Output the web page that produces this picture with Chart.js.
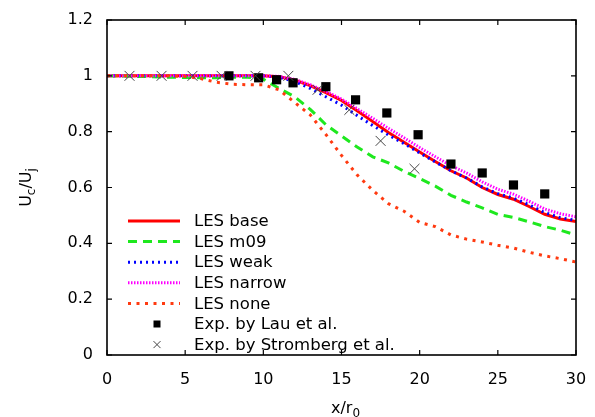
<!DOCTYPE html>
<html>
<head>
<meta charset="utf-8">
<title>Centreline velocity decay</title>
<script src="https://cdn.jsdelivr.net/npm/chart.js@4/dist/chart.umd.min.js"></script>
<style>
  html, body { margin: 0; padding: 0; background: #fff; }
  #wrap { width: 595px; height: 417px; position: relative; }
</style>
</head>
<body>
<div id="wrap"><canvas id="chart"></canvas></div>
<script>
/* ── DATA ─────────────────────────────────────────────── */
const xTicks = [0, 5, 10, 15, 20, 25, 30];
const yTicks = [0, 0.2, 0.4, 0.6, 0.8, 1, 1.2];

// shared x positions (x/r0) of the LES curves
const lesX = [0, 2, 4, 5, 6, 7, 8, 9, 10, 11, 12, 13, 14, 15, 16, 17, 18, 19, 20, 21, 22, 23, 24, 25, 26, 27, 28, 29, 30];

const lesBase   = [1.0, 1.0, 1.0, 1.0, 1.0, 1.0, 1.0, 1.0, 1.0, 0.997, 0.985, 0.965, 0.94, 0.912, 0.875, 0.836, 0.797, 0.762, 0.727, 0.693, 0.66, 0.634, 0.6, 0.575, 0.558, 0.532, 0.504, 0.487, 0.478];
const lesM09    = [1.0, 0.998, 0.995, 0.994, 0.993, 0.993, 0.995, 0.995, 0.988, 0.955, 0.925, 0.88, 0.825, 0.785, 0.745, 0.71, 0.688, 0.658, 0.632, 0.605, 0.572, 0.548, 0.527, 0.504, 0.493, 0.477, 0.46, 0.447, 0.43];
const lesWeak   = [1.0, 1.0, 1.0, 1.0, 1.0, 1.0, 1.0, 1.0, 1.0, 0.995, 0.98, 0.955, 0.925, 0.895, 0.858, 0.822, 0.788, 0.757, 0.724, 0.692, 0.66, 0.634, 0.602, 0.578, 0.562, 0.538, 0.51, 0.492, 0.482];
const lesNarrow = [1.0, 1.0, 1.0, 1.0, 1.0, 1.0, 1.0, 1.0, 1.0, 0.998, 0.987, 0.968, 0.944, 0.917, 0.882, 0.848, 0.812, 0.778, 0.743, 0.71, 0.678, 0.652, 0.62, 0.594, 0.576, 0.551, 0.523, 0.506, 0.495];
const lesNone   = [1.0, 1.0, 1.0, 0.998, 0.99, 0.977, 0.97, 0.968, 0.968, 0.95, 0.905, 0.86, 0.79, 0.715, 0.645, 0.59, 0.542, 0.515, 0.475, 0.46, 0.43, 0.415, 0.405, 0.393, 0.383, 0.368, 0.355, 0.345, 0.333];

const lauX = [7.8, 9.7, 10.85, 11.9, 14.0, 15.9, 17.9, 19.9, 22.0, 24.0, 26.0, 28.0];
const lauY = [1.0, 0.993, 0.986, 0.975, 0.961, 0.914, 0.867, 0.789, 0.684, 0.652, 0.609, 0.577];

const stromX = [1.44, 3.49, 5.47, 7.33, 9.5, 11.6, 13.47, 15.5, 17.5, 19.67];
const stromY = [1.0, 1.0, 1.0, 1.0, 1.0, 1.0, 0.95, 0.878, 0.767, 0.667];

const seriesLabels = ['LES base', 'LES m09', 'LES weak', 'LES narrow', 'LES none', 'Exp. by Lau et al.', 'Exp. by Stromberg et al.'];

/* ── HELPERS ──────────────────────────────────────────── */
const toPts = (xs, ys) => xs.map((x, i) => ({ x, y: ys[i] }));
const FONT = '"DejaVu Sans", "Liberation Sans", Arial, sans-serif';

function lineSet(label, ys, color, dash, order) {
  return {
    label,
    data: toPts(lesX, ys),
    showLine: true,
    borderColor: color,
    backgroundColor: color,
    borderWidth: 3,
    borderDash: dash,
    pointRadius: 0,
    tension: 0,
    order,
  };
}

/* ── PLUGIN: frame, inward ticks, axis titles, legend ─── */
const decor = {
  id: 'decor',
  afterDraw(chart) {
    const { ctx, chartArea: a, scales } = chart;
    ctx.save();

    // frame
    ctx.strokeStyle = '#000';
    ctx.lineWidth = 1.6;
    ctx.strokeRect(a.left, a.top, a.right - a.left, a.bottom - a.top);

    // inward ticks on all four sides
    ctx.lineWidth = 1.2;
    ctx.beginPath();
    xTicks.forEach(v => {
      const px = scales.x.getPixelForValue(v);
      ctx.moveTo(px, a.bottom); ctx.lineTo(px, a.bottom - 5);
      ctx.moveTo(px, a.top); ctx.lineTo(px, a.top + 5);
    });
    yTicks.forEach(v => {
      const py = scales.y.getPixelForValue(v);
      ctx.moveTo(a.left, py); ctx.lineTo(a.left + 5, py);
      ctx.moveTo(a.right, py); ctx.lineTo(a.right - 5, py);
    });
    ctx.stroke();

    // axis titles with subscripts
    ctx.fillStyle = '#000';
    ctx.textBaseline = 'alphabetic';
    const drawSub = (parts, x, y) => {
      let w = 0;
      parts.forEach(([t, sub]) => {
        ctx.font = (sub ? '12px ' : '16px ') + FONT;
        w += ctx.measureText(t).width;
      });
      let cx = x - w / 2;
      parts.forEach(([t, sub]) => {
        ctx.font = (sub ? '12px ' : '16px ') + FONT;
        ctx.fillText(t, cx, y + (sub ? 4 : 0));
        cx += ctx.measureText(t).width;
      });
    };
    drawSub([['x/r', false], ['0', true]], (a.left + a.right) / 2 + 4, 413);

    ctx.save();
    ctx.translate(31, (a.top + a.bottom) / 2);
    ctx.rotate(-Math.PI / 2);
    drawSub([['U', false], ['c', true], ['/U', false], ['j', true]], 0, 0);
    ctx.restore();

    // legend inside the plot
    const rowY0 = 221, rowGap = 20.6;
    const x0 = 128, x1 = 180, mx = 157, tx = 194;
    ctx.font = '16.5px ' + FONT;
    ctx.textBaseline = 'middle';
    seriesLabels.forEach((lab, i) => {
      const ds = chart.data.datasets.find(d => d.label === lab);
      const y = rowY0 + i * rowGap;
      if (ds.showLine) {
        ctx.save();
        ctx.strokeStyle = ds.borderColor;
        ctx.lineWidth = ds.borderWidth;
        ctx.setLineDash(ds.borderDash || []);
        ctx.beginPath();
        ctx.moveTo(x0, y); ctx.lineTo(x1, y);
        ctx.stroke();
        ctx.restore();
      } else if (ds.pointStyle === 'rect') {
        ctx.fillStyle = ds.backgroundColor;
        ctx.fillRect(mx - 3.5, y - 3.5, 7, 7);
      } else {
        ctx.save();
        ctx.strokeStyle = ds.borderColor;
        ctx.lineWidth = 1;
        ctx.beginPath();
        ctx.moveTo(mx - 3.5, y - 3.5); ctx.lineTo(mx + 3.5, y + 3.5);
        ctx.moveTo(mx - 3.5, y + 3.5); ctx.lineTo(mx + 3.5, y - 3.5);
        ctx.stroke();
        ctx.restore();
      }
      ctx.fillStyle = '#000';
      ctx.fillText(lab, tx, y + 1);
    });

    ctx.restore();
  },
};

/* ── CHART ────────────────────────────────────────────── */
new Chart(document.getElementById('chart'), {
  type: 'scatter',
  data: {
    datasets: [
      lineSet(seriesLabels[0], lesBase, '#ff0000', [], 6),
      lineSet(seriesLabels[1], lesM09, '#1ee81e', [9, 6], 5),
      lineSet(seriesLabels[2], lesWeak, '#0000ff', [2, 4], 4),
      lineSet(seriesLabels[3], lesNarrow, '#ff00ff', [1.5, 1.5], 3),
      lineSet(seriesLabels[4], lesNone, '#ff3a10', [3, 5.5], 2),
      {
        label: seriesLabels[5],
        data: toPts(lauX, lauY),
        showLine: false,
        pointStyle: 'rect',
        pointRadius: 6.5,
        backgroundColor: '#000',
        borderColor: '#000',
        borderWidth: 0,
        order: 1,
      },
      {
        label: seriesLabels[6],
        data: toPts(stromX, stromY),
        showLine: false,
        pointStyle: 'crossRot',
        pointRadius: 7,
        backgroundColor: '#444',
        borderColor: '#444',
        borderWidth: 1,
        order: 0,
      },
    ],
  },
  options: {
    responsive: true,
    maintainAspectRatio: false,
    animation: false,
    layout: { padding: { top: 20, right: 19, left: 0, bottom: 0 } },
    plugins: {
      legend: { display: false },
      tooltip: { enabled: false },
    },
    scales: {
      x: {
        type: 'linear',
        min: 0,
        max: 30,
        afterBuildTicks: s => { s.ticks = xTicks.map(v => ({ value: v })); },
        afterFit: s => { s.height = 62; s.paddingLeft = 0; s.paddingRight = 0; },
        grid: { display: false, drawTicks: false },
        border: { display: false },
        ticks: { color: '#000', padding: 15, maxRotation: 0, font: { size: 16, family: FONT } },
      },
      y: {
        type: 'linear',
        min: 0,
        max: 1.2,
        afterBuildTicks: s => { s.ticks = yTicks.map(v => ({ value: v })); },
        afterFit: s => { s.width = 107; s.paddingTop = 0; s.paddingBottom = 0; },
        grid: { display: false, drawTicks: false },
        border: { display: false },
        ticks: { color: '#000', padding: 14, font: { size: 16, family: FONT }, callback: v => String(v) },
      },
    },
  },
  plugins: [decor],
});
</script>
</body>
</html>
